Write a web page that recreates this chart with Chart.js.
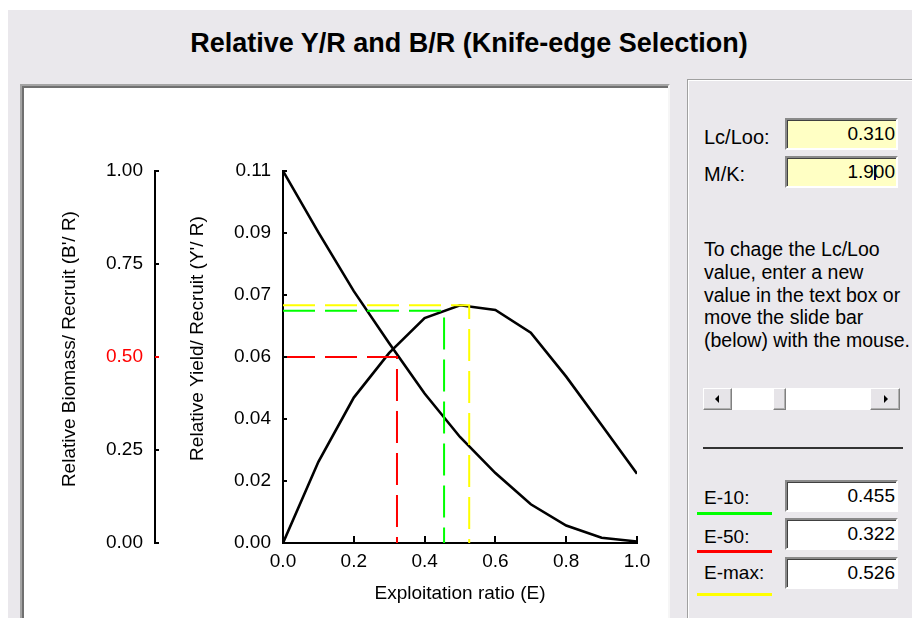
<!DOCTYPE html>
<html><head><meta charset="utf-8">
<script src="https://cdn.jsdelivr.net/npm/chart.js@4.4.1/dist/chart.umd.min.js"></script>
<style>
html,body{margin:0;padding:0;}
body{width:912px;height:618px;position:relative;overflow:hidden;background:#fff;font-family:'Liberation Sans',Arial,sans-serif;color:#000;}
#win{position:absolute;left:8px;top:10px;width:904px;height:608px;background:#EAE8EC;}
#title{position:absolute;left:0;top:28px;width:938px;text-align:center;font-weight:bold;font-size:27px;line-height:30px;white-space:nowrap;}
#frame{position:absolute;left:20px;top:84px;width:646px;height:540px;background:#fff;border-left:2px solid #a4a4a4;border-top:2px solid #a4a4a4;border-right:2px solid #f6f6f6;box-shadow:inset 2px 2px 0 #707070;}
#cv{position:absolute;left:24px;top:88px;}
#panel{position:absolute;left:687px;top:79px;width:230px;height:560px;border-left:1px solid #a0a0a0;border-top:1px solid #a0a0a0;box-shadow:inset 1px 1px 0 #fff;}
.lbl{position:absolute;left:704px;font-size:20px;line-height:20px;white-space:nowrap;}
.box{position:absolute;left:785px;width:113px;height:32px;box-sizing:border-box;border-top:2px solid #8a8a8a;border-left:2px solid #8a8a8a;border-right:2px solid #fff;border-bottom:2px solid #fff;box-shadow:inset 1px 1px 0 #404040;text-align:right;padding-right:1px;font-size:19px;line-height:28px;background:#fff;white-space:nowrap;}
.yel{background:#FFFFC4;}
#para{position:absolute;left:704px;top:238px;font-size:19.5px;line-height:22.8px;white-space:nowrap;}
#sb{position:absolute;left:703px;top:388px;width:197px;height:22px;background:#fff;}
.btn{position:absolute;top:0;height:22px;box-sizing:border-box;background:#E6E4E8;border-top:1px solid #fff;border-left:1px solid #fff;border-right:1px solid #808080;border-bottom:1px solid #808080;box-shadow:inset -1px -1px 0 #b0b0b0;}
#sep{position:absolute;left:703px;top:447px;width:200px;height:2px;background:#333;}
.ul{position:absolute;left:697px;width:75px;height:3px;}
#cur{display:inline-block;width:0;height:15px;border-left:2px solid #000060;margin-right:-2px;vertical-align:-2px;}
</style>
</head><body>
<div id="win"></div>
<div id="title">Relative Y/R and B/R (Knife-edge Selection)</div>
<div id="frame"></div>
<canvas id="cv" width="644" height="530"></canvas>
<div id="panel"></div>
<div class="lbl" style="top:127px">Lc/Loo:</div>
<div class="box yel" style="top:118px">0.310</div>
<div class="lbl" style="top:164px">M/K:</div>
<div class="box yel" style="top:156px">1.9<span id="cur"></span>00</div>
<div id="para">To chage the Lc/Loo<br>value, enter a new<br>value in the text box or<br>move the slide bar<br>(below) with the mouse.</div>
<div id="sb">
  <div class="btn" style="left:0;width:29px"><div style="position:absolute;left:11px;top:6px;width:0;height:0;border-top:4px solid transparent;border-bottom:4px solid transparent;border-right:4px solid #000"></div></div>
  <div class="btn" style="left:70px;width:13px"></div>
  <div class="btn" style="left:167px;width:30px"><div style="position:absolute;left:13px;top:6px;width:0;height:0;border-top:4px solid transparent;border-bottom:4px solid transparent;border-left:4px solid #000"></div></div>
</div>
<div id="sep"></div>
<div class="lbl" style="top:488px;font-size:19px">E-10:</div>
<div class="ul" style="top:512px;background:#00FF00"></div>
<div class="box" style="top:480px">0.455</div>
<div class="lbl" style="top:527px;font-size:19px">E-50:</div>
<div class="ul" style="top:550px;background:#FF0000"></div>
<div class="box" style="top:518px">0.322</div>
<div class="lbl" style="top:563px;font-size:19px">E-max:</div>
<div class="ul" style="top:593px;background:#FFFF00"></div>
<div class="box" style="top:557px">0.526</div>
<script>
// ---- data ----
const exploitation = [0, 0.1, 0.2, 0.3, 0.4, 0.5, 0.6, 0.7, 0.8, 0.9, 1.0];
const yieldPerRecruit = [0, 0.0240, 0.0430, 0.0562, 0.0665, 0.0703, 0.0689, 0.0622, 0.0492, 0.0349, 0.0205];
const biomassPerRecruit = [1.0, 0.835, 0.677, 0.537, 0.402, 0.285, 0.188, 0.104, 0.047, 0.014, 0.004];
const e10 = 0.455, e10Yield = 0.0687;
const e50 = 0.322, e50Biomass = 0.5;
const eMax = 0.526, eMaxYield = 0.0703;
const yieldTickLabels = ['0.00', '0.02', '0.04', '0.06', '0.07', '0.09', '0.11'];
const yieldAxisMax = 0.11;
const biomassTickLabels = ['0.00', '0.25', '0.50', '0.75', '1.00'];
const xTickLabels = ['0.0', '0.2', '0.4', '0.6', '0.8', '1.0'];

Chart.defaults.font.family = "'Liberation Sans', Arial, sans-serif";
Chart.defaults.font.size = 19;
Chart.defaults.color = '#000';

const pts = (ys) => exploitation.map((e, i) => ({x: e, y: ys[i]}));
const DASH = [32, 10];

const tickMarks = {
  id: 'tickMarks',
  afterDraw(chart) {
    const ctx = chart.ctx;
    const sx = chart.scales.x, sy = chart.scales.yY, sb = chart.scales.yB;
    ctx.save();
    ctx.lineWidth = 2;
    const seg = (x1, y1, x2, y2, c) => { ctx.strokeStyle = c; ctx.beginPath(); ctx.moveTo(x1, y1); ctx.lineTo(x2, y2); ctx.stroke(); };
    sx.ticks.forEach(t => { const p = Math.round(sx.getPixelForValue(t.value)); seg(p, sx.top, p, sx.top - 7, '#000'); });
    sy.ticks.forEach(t => { const p = Math.round(sy.getPixelForValue(t.value)); seg(sy.right, p, sy.right + 4, p, '#000'); });
    sb.ticks.forEach(t => { const p = Math.round(sb.getPixelForValue(t.value)); seg(sb.right, p, sb.right + 4, p, Math.abs(t.value - 0.5) < 1e-9 ? '#FF0000' : '#000'); });
    ctx.restore();
  }
};

new Chart(document.getElementById('cv'), {
  type: 'line',
  data: {
    datasets: [
      { label: 'E-50', data: [{x: 0, y: e50Biomass}, {x: e50, y: e50Biomass}, {x: e50, y: 0}], yAxisID: 'yB',
        borderColor: '#FF0000', borderWidth: 2, borderDash: DASH, pointRadius: 0, fill: false },
      { label: 'E-10', data: [{x: 0, y: e10Yield}, {x: e10, y: e10Yield}, {x: e10, y: 0}], yAxisID: 'yY',
        borderColor: '#00FF00', borderWidth: 2, borderDash: DASH, pointRadius: 0, fill: false },
      { label: 'E-max', data: [{x: 0, y: eMaxYield}, {x: eMax, y: eMaxYield}, {x: eMax, y: 0}], yAxisID: 'yY',
        borderColor: '#FFFF00', borderWidth: 2, borderDash: DASH, pointRadius: 0, fill: false },
      { label: "Y'/R", data: pts(yieldPerRecruit), yAxisID: 'yY', borderColor: '#000', borderWidth: 2.6, pointRadius: 0, tension: 0, fill: false },
      { label: "B'/R", data: pts(biomassPerRecruit), yAxisID: 'yB', borderColor: '#000', borderWidth: 2.6, pointRadius: 0, tension: 0, fill: false }
    ]
  },
  options: {
    responsive: false, animation: false, devicePixelRatio: 1,
    layout: { padding: { left: 0, top: 83, right: 31, bottom: 0 } },
    plugins: { legend: { display: false }, tooltip: { enabled: false } },
    scales: {
      x: {
        type: 'linear', position: 'bottom', min: 0, max: 1,
        afterBuildTicks: s => { s.ticks = xTickLabels.map((l, i) => ({value: i / (xTickLabels.length - 1)})); },
        ticks: { autoSkip: false, maxRotation: 0, padding: 7, callback: (v, i) => xTickLabels[i] },
        grid: { display: false, drawTicks: false },
        border: { display: true, color: '#000', width: 2 },
        title: { display: true, text: 'Exploitation ratio (E)', padding: { top: 0, bottom: 12.6 } },
        afterFit: s => { s.height = 75; }
      },
      yY: {
        type: 'linear', position: 'left', weight: 0, min: 0, max: yieldAxisMax,
        afterBuildTicks: s => { s.ticks = yieldTickLabels.map((l, i) => ({value: yieldAxisMax * i / (yieldTickLabels.length - 1)})); },
        ticks: { autoSkip: false, padding: 12, crossAlign: 'near', callback: (v, i) => yieldTickLabels[i] },
        grid: { display: false, drawTicks: false },
        border: { display: true, color: '#000', width: 2 },
        title: { display: true, text: "       Relative Yield/ Recruit (Y'/ R)", padding: { top: 31.6, bottom: 0 } },
        afterFit: s => { s.width = 128; }
      },
      yB: {
        type: 'linear', position: 'left', weight: 1, min: 0, max: 1,
        afterBuildTicks: s => { s.ticks = biomassTickLabels.map((l, i) => ({value: i / (biomassTickLabels.length - 1)})); },
        ticks: { autoSkip: false, padding: 12, crossAlign: 'near', callback: (v, i) => biomassTickLabels[i],
                 color: c => (c.tick && Math.abs(c.tick.value - 0.5) < 1e-9) ? '#FF0000' : '#000' },
        grid: { display: false, drawTicks: false },
        border: { display: true, color: '#000', width: 2 },
        title: { display: true, text: "   Relative Biomass/ Recruit (B'/ R)", padding: { top: 34.6, bottom: 0 } },
        afterFit: s => { s.width = 131; }
      }
    }
  },
  plugins: [tickMarks]
});
</script>
</body></html>
